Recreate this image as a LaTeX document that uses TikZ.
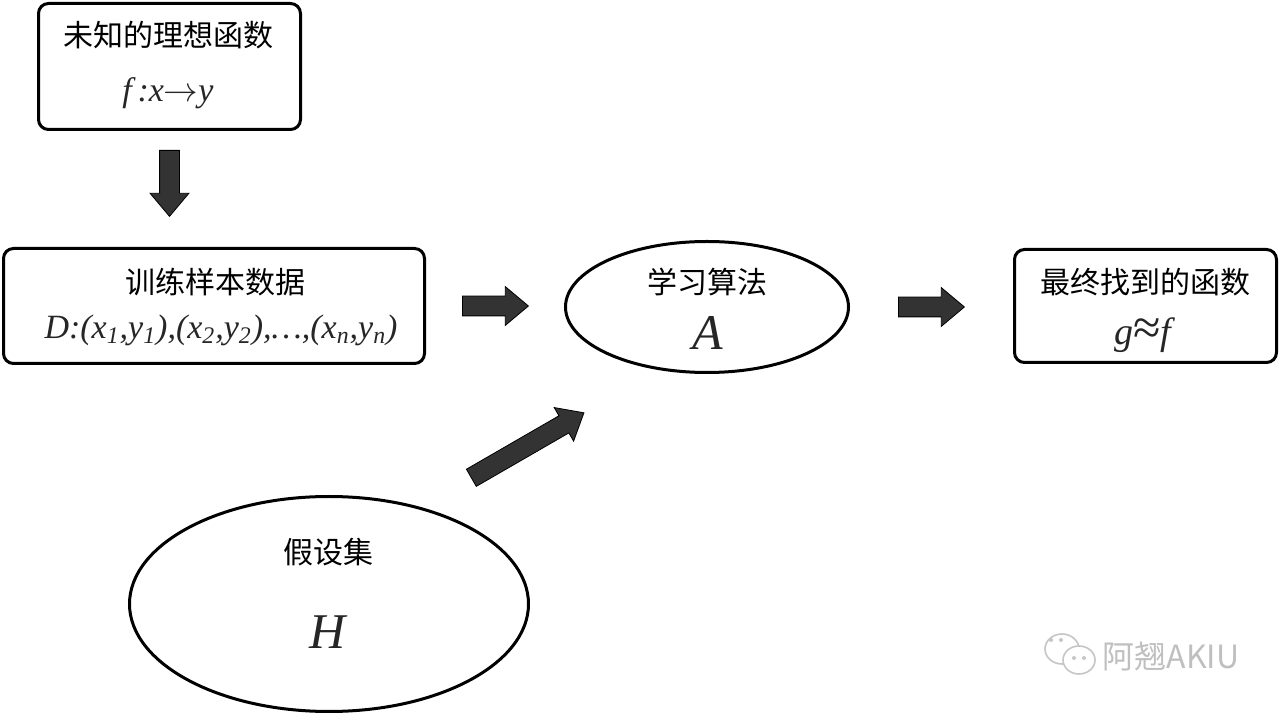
\documentclass[tikz,border=0pt]{standalone}
\usepackage{fontspec}
\setmainfont{Liberation Serif}
\newfontfamily\cjk{Noto Sans CJK SC}
\newfontfamily\tms{Liberation Serif}
\usetikzlibrary{positioning,shapes.geometric,shapes.arrows,calc}
\newcommand\sub[1]{\textsubscript{#1}}

\begin{document}
\begin{tikzpicture}[x=0.5pt,y=-0.5pt,
    frame/.style={draw, line width=1.5pt, rounded corners=5pt, inner sep=0pt},
    oval/.style={draw, ellipse, line width=1.5pt, inner sep=0pt},
    blockarrow/.style={single arrow, draw=black, line width=0.4pt, fill=black!80,
      inner xsep=0pt, inner ysep=4.75pt, single arrow head extend=4.75pt,
      single arrow tip angle=80, minimum height=33pt, anchor=tail},
    title/.style={font=\cjk\fontsize{15pt}{18pt}\selectfont},
    formula/.style={font=\tms\itshape\fontsize{17pt}{20pt}\selectfont, text=black!85},
    bigformula/.style={font=\tms\itshape\fontsize{25pt}{30pt}\selectfont, text=black!85}]
\fill[white] (0,0) rectangle (1280,715);
\useasboundingbox (0,0) rectangle (1280,715);

% unknown target function
\node[frame, minimum width=131pt, minimum height=63pt] (ideal) at (169.5,66.5) {};
\node[title] (idealTitle) at (168,35) {未知的理想函数};
\node[formula] (idealFormula) at (168,93) {f\,:x$\rightarrow$y};

% training data
\node[frame, minimum width=210.5pt, minimum height=57.5pt] (data) at (214,306) {};
\node[title] (dataTitle) at (215,282) {训练样本数据};
\node[formula] (dataFormula) at (221,330) {D:(x\sub{1},y\sub{1}),(x\sub{2},y\sub{2}),…,(x\sub{n},y\sub{n})};

% learning algorithm
\node[oval, minimum width=141.5pt, minimum height=65.5pt] (algo) at (707,307) {};
\node[title] (algoTitle) at (707,282) {学习算法};
\node[bigformula] (algoFormula) at (708,333) {A};

% final hypothesis
\node[frame, minimum width=131pt, minimum height=56.5pt] (final) at (1145.5,306) {};
\node[title] (finalTitle) at (1145,282) {最终找到的函数};
\node[formula, font=\tms\itshape\fontsize{19pt}{22pt}\selectfont] (finalFormula) at (1143,335)
  {g{\upshape\fontsize{25pt}{25pt}\selectfont ≈}f};

% hypothesis set
\node[oval, minimum width=199.5pt, minimum height=107.5pt] (hypo) at (329,604) {};
\node[title] (hypoTitle) at (328,552) {假设集};
\node[bigformula] (hypoFormula) at (328,632) {H};

% block arrows
\node[blockarrow, rotate=-90] (toData) at ([yshift=-9.5pt]ideal.south) {};
\node[blockarrow] (toAlgo) at ([xshift=18pt]data.east) {};
\node[blockarrow] (toFinal) at ([xshift=24pt]algo.east) {};
\node[blockarrow, rotate=30, minimum height=65pt] (hypoToAlgo) at (471,478) {};

% watermark
\draw[gray!45, line width=0.8pt] (1062,649) ellipse [x radius=8.5pt, y radius=7.5pt];
\draw[gray!45, line width=0.8pt, fill=white] (1079,660) ellipse [x radius=8pt, y radius=7pt];
\foreach \dx in {-5,5} {
  \fill[gray!45] (1056+\dx,640) circle [radius=1pt];
  \fill[gray!45] (1079+\dx,658) circle [radius=1pt];
}
\node[font=\cjk\fontsize{16pt}{18pt}\selectfont, text=gray!50] (mark) at (1171,657) {阿翘AKIU};
\end{tikzpicture}
\end{document}
